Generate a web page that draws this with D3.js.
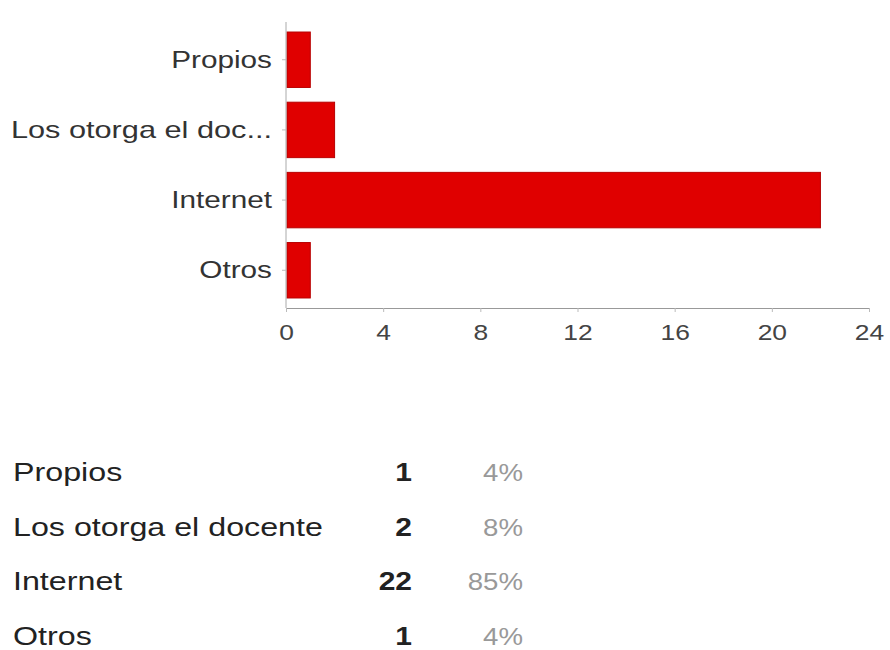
<!DOCTYPE html>
<html>
<head>
<meta charset="utf-8">
<script src="https://cdn.jsdelivr.net/npm/d3@7/dist/d3.min.js"></script>
<style>
  html, body { margin: 0; padding: 0; background: #fff; }
  svg { display: block; }
  text { font-family: "Liberation Sans", Arial, Helvetica, sans-serif; }
</style>
</head>
<body>
<svg id="chart" width="890" height="650"></svg>
<script>
// Survey answers: where the material comes from
const categories = ["Propios", "Los otorga el docente", "Internet", "Otros"];
const axisLabels = ["Propios", "Los otorga el doc...", "Internet", "Otros"];
const counts = [1, 2, 22, 1];
const xTicks = [0, 4, 8, 12, 16, 20, 24];

const total = d3.sum(counts);
const percents = counts.map(c => Math.round(c / total * 100) + "%");

const svg = d3.select("#chart");
const STRETCH = 1.2; // wide lettering

const x = d3.scaleLinear().domain([0, 24]).range([286, 869]);
const y = d3.scaleBand().domain(categories).range([25, 305])
  .paddingInner(0.21).paddingOuter(0.1);

// Text placed with a horizontal stretch around its anchor point
function wideText(sel, tx, ty, k) {
  return sel.attr("transform", (d, i) => `translate(${tx(d, i)},${ty(d, i)}) scale(${k},1)`);
}

// Bars
svg.append("g").selectAll("rect")
  .data(categories)
  .join("rect")
  .attr("x", x(0) + 1)
  .attr("y", d => y(d))
  .attr("width", (d, i) => x(counts[i]) - x(0) - 1)
  .attr("height", y.bandwidth())
  .attr("fill", "#e00000")
  .attr("stroke", "#b80000")
  .attr("stroke-width", 1);

// X axis
const xAxis = d3.axisBottom(x).tickValues(xTicks).tickSize(4).tickPadding(6);
const gx = svg.append("g").attr("transform", "translate(0,308)").call(xAxis);
gx.select(".domain").attr("stroke", "#999");
gx.selectAll(".tick line").attr("stroke", "#bbb");
gx.selectAll(".tick text").remove();
gx.selectAll(".tick").append("text")
  .text(d => d)
  .attr("text-anchor", "middle")
  .attr("fill", "#444")
  .attr("font-size", 22)
  .attr("transform", `translate(0,32) scale(${STRETCH},1)`);

// Y axis
const yAxis = d3.axisLeft(y).tickSize(4).tickSizeOuter(0);
const gy = svg.append("g").attr("transform", "translate(286,0)").call(yAxis);
gy.select(".domain").attr("stroke", "#aaa").attr("d", "M0,22V308");
gy.selectAll(".tick line").attr("stroke", "#bbb");
gy.selectAll(".tick text").remove();
gy.selectAll(".tick").append("text")
  .text((d, i) => axisLabels[i])
  .attr("text-anchor", "end")
  .attr("fill", "#333")
  .attr("font-size", 24)
  .attr("transform", (d, i) => `translate(-14,8) scale(${i === 1 ? 1.28 : 1.24},1)`);

// Summary table below the chart
const rowY = d3.scalePoint().domain(categories).range([481, 645]);
const table = svg.append("g");

wideText(table.selectAll("text.lab").data(categories).join("text").attr("class", "lab"),
  () => 13, d => rowY(d), 1.24)
  .text(d => d)
  .attr("fill", "#222")
  .attr("font-size", 26);

wideText(table.selectAll("text.cnt").data(categories).join("text").attr("class", "cnt"),
  () => 412, d => rowY(d), STRETCH)
  .text((d, i) => counts[i])
  .attr("text-anchor", "end")
  .attr("font-weight", "bold")
  .attr("fill", "#222")
  .attr("font-size", 25);

wideText(table.selectAll("text.pct").data(categories).join("text").attr("class", "pct"),
  () => 523, d => rowY(d), STRETCH)
  .text((d, i) => percents[i])
  .attr("text-anchor", "end")
  .attr("fill", "#999")
  .attr("font-size", 23);
</script>
</body>
</html>
